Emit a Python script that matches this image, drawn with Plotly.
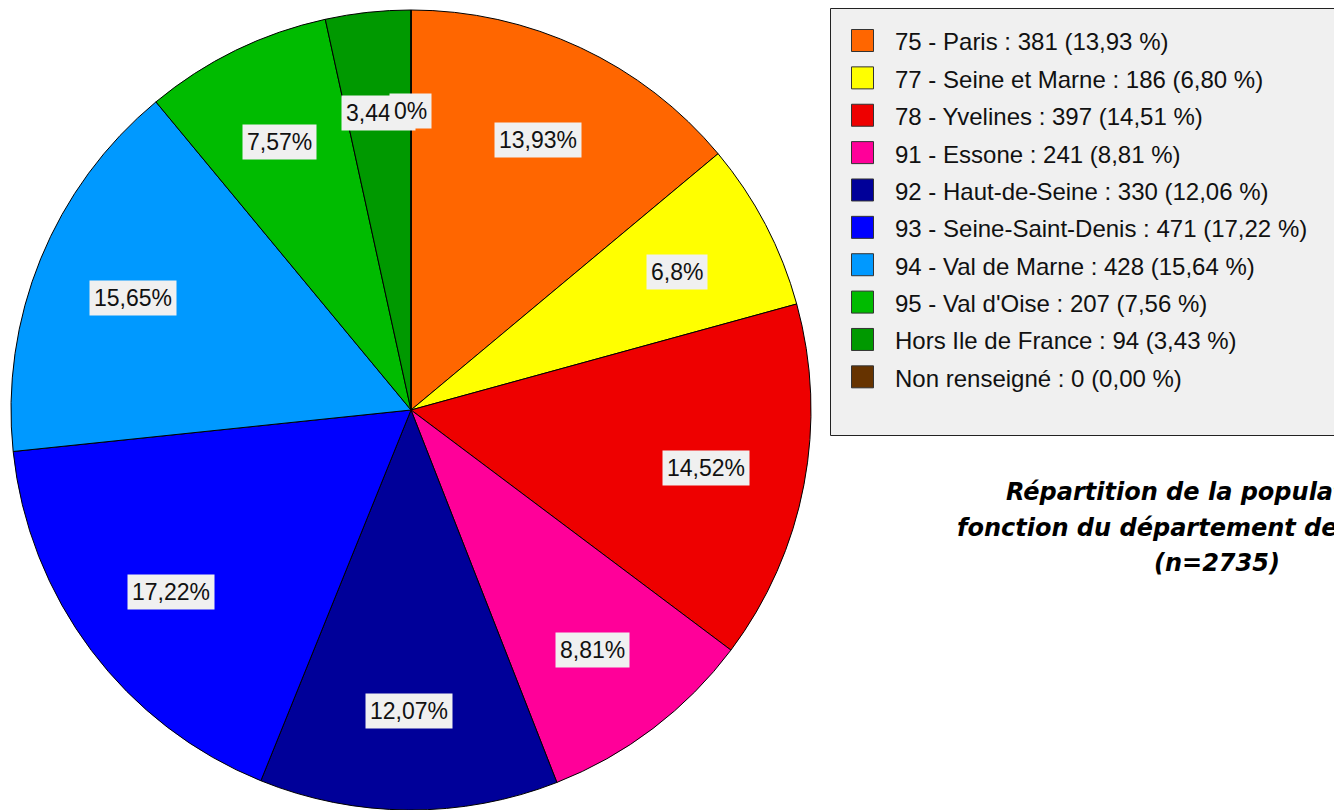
import math
import plotly.graph_objects as go

# ---- data ----
categories = ["75 - Paris", "77 - Seine et Marne", "78 - Yvelines", "91 - Essone",
              "92 - Haut-de-Seine", "93 - Seine-Saint-Denis", "94 - Val de Marne",
              "95 - Val d'Oise", "Hors Ile de France", "Non renseigné"]
values = [381, 186, 397, 241, 330, 471, 428, 207, 94, 0]
legend_pct = ["13,93", "6,80", "14,51", "8,81", "12,06", "17,22", "15,64", "7,56", "3,43", "0,00"]
slice_labels = ["13,93%", "6,8%", "14,52%", "8,81%", "12,07%", "17,22%", "15,65%", "7,57%", "3,44%", "0%"]
colors = ["#FF6600", "#FFFF00", "#EE0000", "#FF0099", "#000099", "#0000FF",
          "#0099FF", "#00BB00", "#009900", "#663300"]
title_lines = ["Répartition de la population en",
               "fonction du département de résidence",
               "(n=2735)"]

W, H = 1334, 810
# pie placement (pixels)
pie_left, pie_right = 11, 811
pie_top, pie_bottom = 10, 810
cx = (pie_left + pie_right) / 2
cy = (pie_top + pie_bottom) / 2
R = (pie_right - pie_left) / 2


def px(x):
    return x / W


def py(y):
    return 1 - y / H


fig = go.Figure()
fig.add_trace(go.Pie(
    values=values,
    labels=categories,
    sort=False,
    direction="clockwise",
    rotation=0,
    textinfo="none",
    hoverinfo="label+value+percent",
    marker=dict(colors=colors, line=dict(color="#000000", width=1)),
    domain=dict(x=[px(pie_left), px(pie_right)], y=[py(pie_bottom), py(pie_top)]),
    showlegend=False,
))

annotations = []
shapes = []

# slice labels, positioned at the mid-angle of each slice
total = sum(values)
cum = 0
for v, lab in zip(values, slice_labels):
    mid = (cum + v / 2) / total * 2 * math.pi
    cum += v
    rr = 0.75 * R
    x = cx + rr * math.sin(mid)
    y = cy - rr * math.cos(mid) + 1.5
    annotations.append(dict(
        x=px(x), y=py(y), xref="paper", yref="paper", text=lab, showarrow=False,
        xanchor="center", yanchor="middle",
        font=dict(family="Liberation Sans, Arial", size=23, color="#111111"),
        bgcolor="#F0F0F0", borderpad=4,
    ))

# legend box
shapes.append(dict(type="rect", xref="paper", yref="paper",
                   x0=px(830.5), x1=px(1340), y0=py(435.5), y1=py(8.5),
                   line=dict(color="#222222", width=1), fillcolor="#F0F0F0", layer="below"))
row0, step = 40.5, 37.37
for i, (cat, v, p, c) in enumerate(zip(categories, values, legend_pct, colors)):
    yc = row0 + i * step
    shapes.append(dict(type="rect", xref="paper", yref="paper",
                       x0=px(851.5), x1=px(873.5), y0=py(yc + 11), y1=py(yc - 11),
                       line=dict(color="#333333", width=1), fillcolor=c))
    annotations.append(dict(
        x=px(893), y=py(yc + 1.5), xref="paper", yref="paper",
        text=f"{cat} : {v} ({p} %)", showarrow=False,
        xanchor="left", yanchor="middle",
        font=dict(family="Liberation Sans, Arial", size=24, color="#111111"),
    ))

# title (three centred lines)
title_y = [492, 527.5, 563]
for t, yy in zip(title_lines, title_y):
    annotations.append(dict(
        x=px(1217), y=py(yy), xref="paper", yref="paper", text=f"<b><i>{t}</i></b>",
        showarrow=False, xanchor="center", yanchor="middle",
        font=dict(family="DejaVu Sans", size=24, color="#000000"),
    ))

fig.update_layout(
    width=W, height=H,
    margin=dict(l=0, r=0, t=0, b=0),
    paper_bgcolor="#FFFFFF", plot_bgcolor="#FFFFFF",
    annotations=annotations, shapes=shapes,
    showlegend=False,
)

fig.write_html(
    "out.html",
    config={"displayModeBar": False},
    post_script="document.body.style.margin='0px';document.body.style.overflow='hidden';",
)
